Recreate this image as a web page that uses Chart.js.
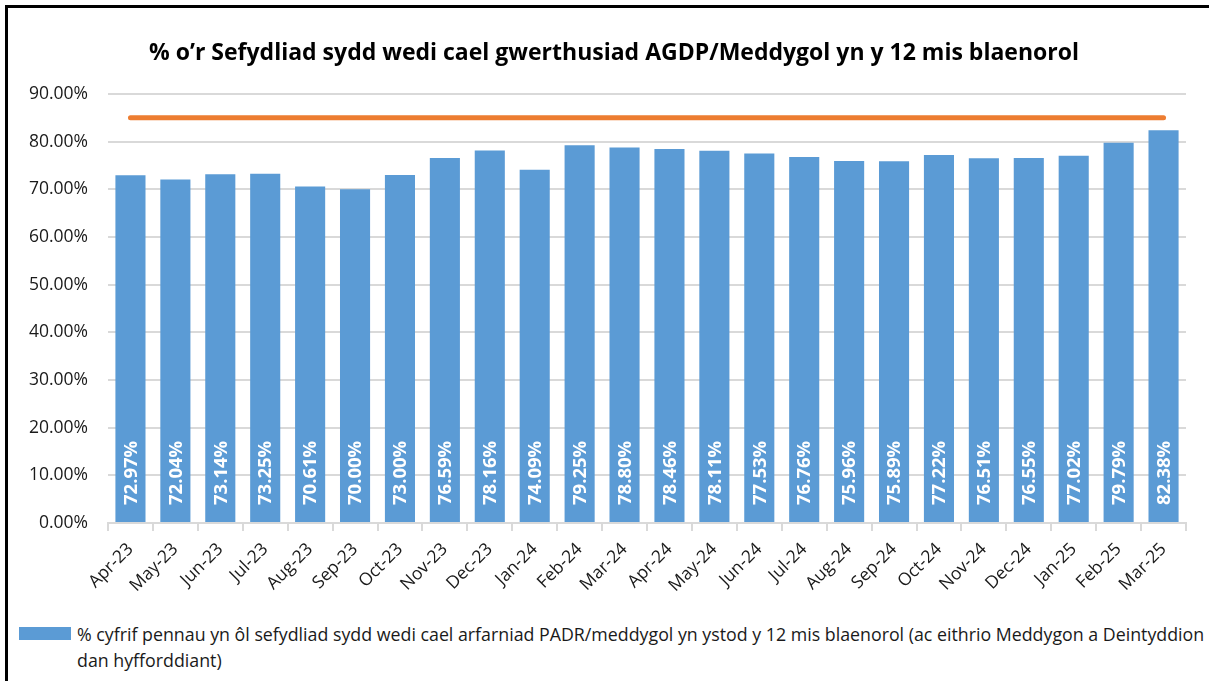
<!DOCTYPE html>
<html>
<head>
<meta charset="utf-8">
<script src="https://cdn.jsdelivr.net/npm/chart.js@4/dist/chart.umd.min.js"></script>
<style>
  html, body { margin:0; padding:0; background:#fff; overflow:hidden; width:1209px; height:681px; }
  #frame { position:absolute; left:5px; top:5px; width:1230px; height:700px; border:3px solid #000; box-sizing:border-box; }
  #chart { position:absolute; left:0; top:0; }
  #title { position:absolute; left:0; width:1228px; top:36px; line-height:30px; text-align:center;
           font-family:"Open Sans", sans-serif; font-weight:bold; font-size:23px; color:#000; white-space:nowrap; }
  #legend { position:absolute; left:19px; top:621px; font-family:"Open Sans", sans-serif; font-size:17.8px; line-height:26px; color:#1a1a1a; }
  #legend .box { position:absolute; left:0; top:6px; width:52px; height:13px; background:#5B9BD5; }
  #legend .txt { position:absolute; left:58px; top:0; white-space:nowrap; }
</style>
</head>
<body>
<div id="frame"></div>
<canvas id="chart" width="1209" height="615"></canvas>
<div id="title">% o’r Sefydliad sydd wedi cael gwerthusiad AGDP/Meddygol yn y 12 mis blaenorol</div>
<div id="legend"><div class="box"></div><div class="txt">% cyfrif pennau yn ôl sefydliad sydd wedi cael arfarniad PADR/meddygol yn ystod y 12 mis blaenorol (ac eithrio Meddygon a Deintyddion<br>dan hyfforddiant)</div></div>
<script>
const categories = ['Apr-23','May-23','Jun-23','Jul-23','Aug-23','Sep-23','Oct-23','Nov-23','Dec-23','Jan-24','Feb-24','Mar-24','Apr-24','May-24','Jun-24','Jul-24','Aug-24','Sep-24','Oct-24','Nov-24','Dec-24','Jan-25','Feb-25','Mar-25'];
const appraisalRate = [72.97,72.04,73.14,73.25,70.61,70.00,73.00,76.59,78.16,74.09,79.25,78.80,78.46,78.11,77.53,76.76,75.96,75.89,77.22,76.51,76.55,77.02,79.79,82.38];
const targetRate = [85,85,85,85,85,85,85,85,85,85,85,85,85,85,85,85,85,85,85,85,85,85,85,85];
const yMin = 0, yMax = 90, yStep = 10;

const barLabels = {
  id: 'barLabels',
  afterDatasetsDraw(chart) {
    const ctx = chart.ctx;
    const meta = chart.getDatasetMeta(0);
    ctx.save();
    ctx.fillStyle = '#ffffff';
    ctx.font = 'bold 18.5px "Open Sans", sans-serif';
    ctx.textAlign = 'left';
    ctx.textBaseline = 'middle';
    meta.data.forEach((bar, i) => {
      ctx.save();
      ctx.translate(bar.x, bar.base - 17);
      ctx.rotate(-Math.PI / 2);
      ctx.fillText(appraisalRate[i].toFixed(2) + '%', 0, 1);
      ctx.restore();
    });
    ctx.restore();
  }
};

new Chart(document.getElementById('chart'), {
  type: 'bar',
  data: {
    labels: categories,
    datasets: [
      {
        type: 'bar',
        label: '% cyfrif pennau',
        data: appraisalRate,
        backgroundColor: '#5B9BD5',
        barPercentage: 0.67,
        categoryPercentage: 1.0,
        order: 2
      },
      {
        type: 'line',
        label: 'Target',
        data: targetRate,
        borderColor: '#ED7D31',
        borderWidth: 5,
        borderCapStyle: 'round',
        pointRadius: 0,
        fill: false,
        order: 1
      }
    ]
  },
  options: {
    responsive: false,
    animation: false,
    devicePixelRatio: 1,
    layout: { padding: { left: 10, right: 23, top: 94, bottom: 12 } },
    plugins: {
      legend: { display: false },
      title: { display: false },
      tooltip: { enabled: false }
    },
    scales: {
      x: {
        offset: true,
        grid: { display: true, drawOnChartArea: false, drawTicks: true, tickLength: 8, color: '#d9d9d9', lineWidth: 2, offset: true },
        border: { display: true, color: '#d9d9d9', width: 2 },
        ticks: { minRotation: 45, maxRotation: 45, autoSkip: false, color: '#1a1a1a', padding: 8,
                 font: { family: '"Open Sans", sans-serif', size: 17.5 } },
        afterFit(scale) { scale.height = 80; }
      },
      y: {
        min: yMin, max: yMax,
        grid: { color: '#d9d9d9', lineWidth: 2, drawTicks: false },
        border: { display: false },
        ticks: { stepSize: yStep, padding: 20, color: '#1a1a1a',
                 font: { family: '"Open Sans", sans-serif', size: 17.5 },
                 callback: v => v.toFixed(2) + '%' },
        afterFit(scale) { scale.width = 98; }
      }
    }
  },
  plugins: [barLabels]
});
</script>
</body>
</html>
